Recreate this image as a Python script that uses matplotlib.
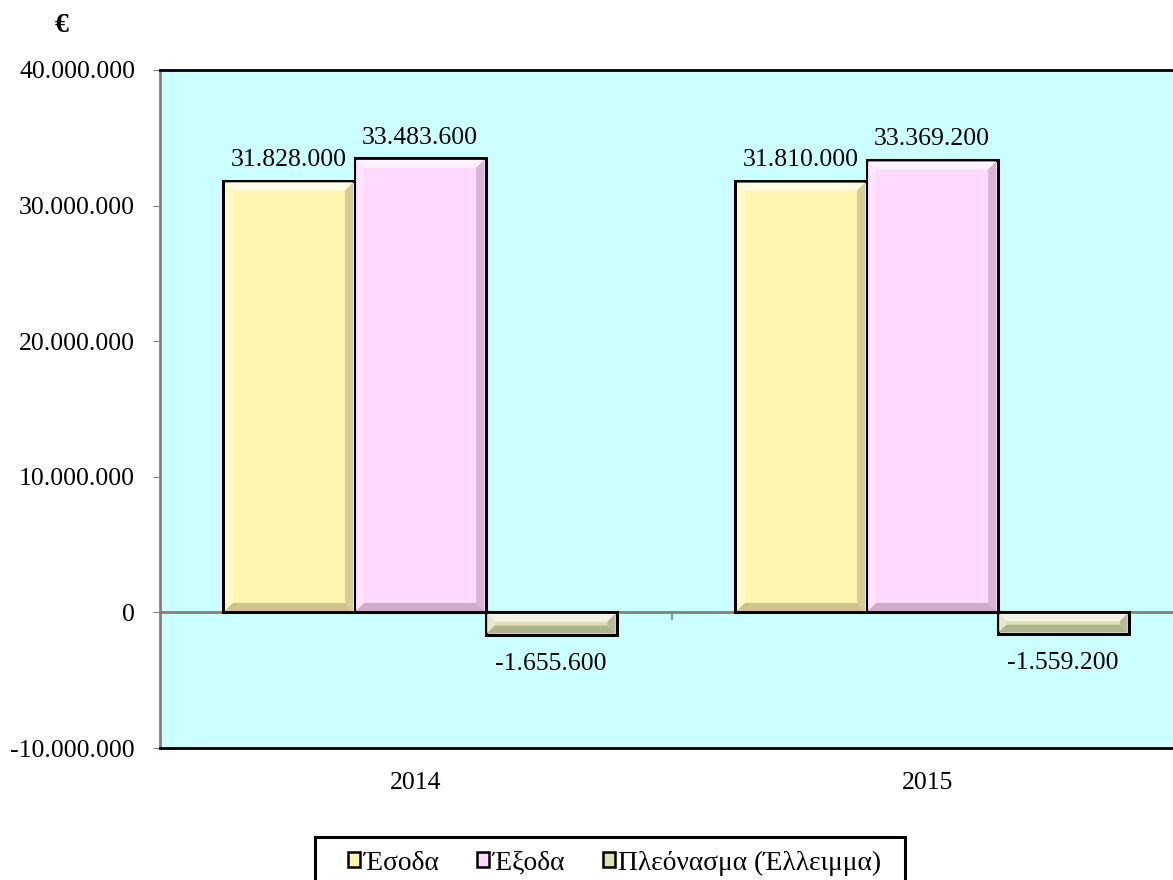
import numpy as np
import matplotlib
matplotlib.use("Agg")
import matplotlib.pyplot as plt
from matplotlib.patches import Polygon, Rectangle
from matplotlib.colors import to_rgb

plt.rcParams['font.family'] = ['Liberation Serif', 'DejaVu Serif']

# data
years = ['2014', '2015']
series = ['Έσοδα', 'Έξοδα', 'Πλεόνασμα (Έλλειμμα)']
esoda = [31828000, 31810000]
exoda = [33483600, 33369200]
pleonasma = [-1655600, -1559200]
colors = ['#FFF5B0', '#FFD9FF', '#DCE0B4']

FS = 18.5
W, H = 1173, 880

def fmt(v):
    return f"{v:,.0f}".replace(',', '.')

def mix(c, other, t):
    c = np.array(to_rgb(c)); o = np.array(to_rgb(other))
    return tuple(c * (1 - t) + o * t)

fig = plt.figure(figsize=(W / 100, H / 100), dpi=100)
fig.patch.set_facecolor('white')
ax = fig.add_axes([160 / W, 1 - 748 / H, 1024 / W, 678 / H])
ax.set_facecolor('#CCFFFF')

x = np.arange(len(years))
w = 0.256
offs = [-w, 0, w]
all_bars = []
for vals, off, col, lab in zip([esoda, exoda, pleonasma], offs, colors, series):
    b = ax.bar(x + off + 0.008, vals, w, color=col, edgecolor='black', linewidth=2.2,
               label=lab, zorder=3)
    all_bars.append((b, col))

ax.set_xlim(-0.5, 1.5)
ax.set_ylim(-10000000, 40000000)
ax.set_yticks(np.arange(-10000000, 40000001, 10000000))
ax.set_yticklabels([fmt(v) for v in ax.get_yticks()], fontsize=FS)
ax.set_xticks(x)
ax.set_xticklabels(years, fontsize=FS)
ax.tick_params(axis='x', length=0, pad=17)
ax.tick_params(axis='y', length=5, color='#808080', pad=13)

for s in ['top', 'bottom']:
    ax.spines[s].set_color('black')
    ax.spines[s].set_linewidth(2)
ax.spines['left'].set_color('#808080')
ax.spines['left'].set_linewidth(2)
ax.spines['right'].set_visible(False)

# zero line with category separator tick
ax.axhline(0, color='#808080', linewidth=2, zorder=2)
ax.plot([0.5, 0.5], [0, -450000], color='#808080', linewidth=1.2, zorder=2)

# bevel effect
fig.canvas.draw()
to_fig = fig.transFigure.inverted()
bev = 8
for bars, col in all_bars:
    for p in bars:
        bb = p.get_window_extent()
        x0, y0, x1, y1 = bb.x0 + 1.5, bb.y0 + 1.5, bb.x1 - 1.5, bb.y1 - 1.5
        b = min(bev, (y1 - y0) / 2.5)
        faces = [
            ([(x0, y1), (x1, y1), (x1 - b, y1 - b), (x0 + b, y1 - b)], mix(col, 'white', 0.65)),
            ([(x0, y0), (x0, y1), (x0 + b, y1 - b), (x0 + b, y0 + b)], mix(col, 'white', 0.3)),
            ([(x1, y0), (x1, y1), (x1 - b, y1 - b), (x1 - b, y0 + b)], mix(col, 'black', 0.16)),
            ([(x0, y0), (x1, y0), (x1 - b, y0 + b), (x0 + b, y0 + b)], mix(col, 'black', 0.2)),
        ]
        for pts, c in faces:
            pts = to_fig.transform(pts)
            fig.patches.append(Polygon(pts, closed=True, transform=fig.transFigure,
                                       facecolor=c, edgecolor='none', zorder=4))

# value labels
for bars, _ in all_bars:
    for p in bars:
        v = p.get_height()
        cx = p.get_x() + p.get_width() / 2
        if v >= 0:
            ax.annotate(fmt(v), (cx, v), xytext=(0, 7), textcoords='offset points',
                        ha='center', va='bottom', fontsize=FS, zorder=5)
        else:
            ax.annotate(fmt(v), (cx, v), xytext=(0, -13), textcoords='offset points',
                        ha='center', va='top', fontsize=FS, zorder=5)

fig.text(62 / W, 1 - 26 / H, '€', fontsize=20, fontweight='bold', ha='center', va='center')

# legend: entries without frame, frame drawn separately
leg = fig.legend(loc='center left', bbox_to_anchor=(348 / W, 1 - 863 / H), ncol=3,
                 fontsize=19.8, frameon=False, handlelength=0.45,
                 handleheight=0.45, handletextpad=0.12, columnspacing=1.4,
                 borderpad=0, borderaxespad=0)
for h in leg.legend_handles:
    h.set_linewidth(1.8)
fig.patches.append(Rectangle((315 / W, 1 - 895 / H), 590 / W, 58 / H,
                             transform=fig.transFigure, facecolor='none',
                             edgecolor='black', linewidth=2.2))

fig.savefig('out.png', dpi=100)
